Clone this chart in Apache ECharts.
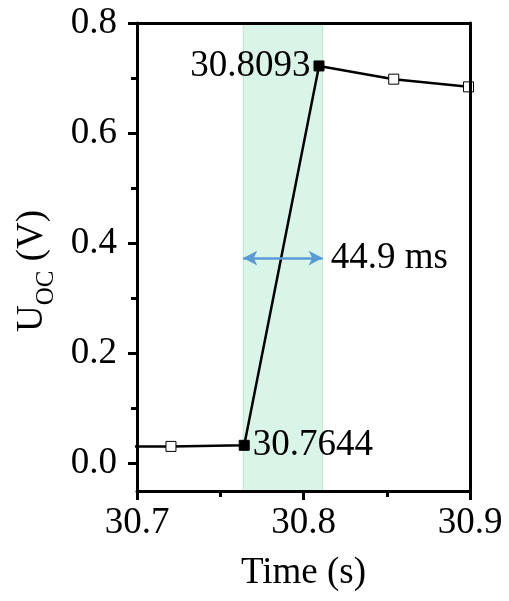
<!DOCTYPE html>
<html>
<head>
<meta charset="utf-8">
<script src="https://cdn.jsdelivr.net/npm/echarts@6/dist/echarts.min.js"></script>
<style>
  html, body { margin: 0; padding: 0; background: #fff; }
  #chart { width: 509px; height: 601px; }
</style>
</head>
<body>
<div id="chart"></div>
<script>
// sampled points (time in s, voltage in V)
const times = [30.6755, 30.7204, 30.7644, 30.8093, 30.8542, 30.8991];
const volts = [0.031, 0.031, 0.033, 0.722, 0.698, 0.684];
// which points are highlighted (filled) and labelled
const filled = [false, false, true, true, false, false];
const labelSide = [null, null, 'right', 'left', null, null];

// shaded switching window and the arrow across it
const bandStart = 30.7638;
const bandEnd = 30.8115;
const arrowY = 0.373;
const arrowText = '44.9 ms';

const xTicks = [30.7, 30.8, 30.9];
const xMinorTicks = [30.75, 30.85];
const yTicks = [0, 0.2, 0.4, 0.6, 0.8];
const yMinorTicks = [0.1, 0.3, 0.5, 0.7];

const FONT = 'Liberation Serif';
const FS = 37;
const GRID = { left: 137, right: 39, top: 23, bottom: 110 };
const PLOT_W = 509 - GRID.left - GRID.right;

const chart = echarts.init(document.getElementById('chart'), null, { renderer: 'canvas' });

const seriesData = times.map((t, i) => {
  const item = {
    value: [t, volts[i]],
    itemStyle: { color: filled[i] ? '#000' : '#fff', borderColor: '#000', borderWidth: 1 }
  };
  if (labelSide[i]) {
    item.label = {
      show: true,
      position: labelSide[i],
      distance: 3,
      formatter: t.toFixed(4),
      fontFamily: FONT,
      fontSize: FS,
      color: '#000'
    };
  }
  return item;
});

const tickStyle = { width: 3, color: '#000' };
const lineStyle = { color: '#000', width: 3 };

// an axis that only draws ticks at given values
function tickAxis(position, min, max, values, len, extra) {
  return Object.assign({
    type: 'value',
    position: position,
    min: min,
    max: max,
    z: 5,
    axisLine: { show: false, onZero: false },
    axisTick: { show: true, customValues: values.slice(), length: len, lineStyle: tickStyle },
    axisLabel: { show: false },
    splitLine: { show: false }
  }, extra || {});
}

const option = {
  animation: false,
  grid: GRID,
  xAxis: [
    {
      type: 'value',
      min: 30.7,
      max: 30.9,
      z: 5,
      name: 'Time (s)',
      nameLocation: 'middle',
      nameGap: 64,
      nameTextStyle: { fontFamily: FONT, fontSize: FS, color: '#000' },
      axisLine: { show: true, onZero: false, lineStyle: lineStyle },
      axisTick: { show: false },
      axisLabel: {
        customValues: xTicks.slice(),
        margin: 14,
        fontFamily: FONT, fontSize: FS, color: '#000',
        formatter: v => v.toFixed(1)
      },
      splitLine: { show: false }
    },
    tickAxis('bottom', 30.7, 30.9, xTicks, 9),
    tickAxis('bottom', 30.7, 30.9, xMinorTicks, 6),
    {
      type: 'value',
      position: 'top',
      min: 30.7,
      max: 30.9,
      z: 5,
      axisLine: { show: true, onZero: false, lineStyle: lineStyle },
      axisTick: { show: false },
      axisLabel: { show: false },
      splitLine: { show: false }
    }
  ],
  yAxis: [
    tickAxis('left', -0.05, 0.8, yTicks, 9),
    tickAxis('left', -0.05, 0.8, yMinorTicks, 6),
    {
      type: 'value',
      position: 'left',
      min: -0.05,
      max: 0.8,
      z: 5,
      name: '{m|U}{s|OC}{m| (V)}',
      nameLocation: 'middle',
      nameGap: 78,
      nameMoveOverlap: false,
      nameTextStyle: {
        padding: [0, 28, 0, 0],
        rich: {
          m: { fontFamily: FONT, fontSize: FS, color: '#000', verticalAlign: 'bottom', padding: [0, 0, 8, 0] },
          s: { fontFamily: FONT, fontSize: 25, color: '#000', verticalAlign: 'bottom' }
        }
      },
      axisLine: { show: true, onZero: false, lineStyle: lineStyle },
      axisTick: { show: false },
      axisLabel: {
        customValues: yTicks.slice(),
        margin: 20,
        fontFamily: FONT, fontSize: FS, color: '#000',
        formatter: v => v.toFixed(1)
      },
      splitLine: { show: false }
    },
    {
      type: 'value',
      position: 'right',
      min: -0.05,
      max: 0.8,
      z: 5,
      axisLine: { show: true, onZero: false, lineStyle: lineStyle },
      axisTick: { show: false },
      axisLabel: { show: false },
      splitLine: { show: false }
    },
    // major y ticks again, hosted on the right side and shifted onto the left axis
    tickAxis('right', -0.05, 0.8, yTicks, 9, {
      offset: -PLOT_W,
      axisTick: { show: true, inside: true, customValues: yTicks.slice(), length: 9, lineStyle: tickStyle }
    })
  ],
  series: [
    {
      // shaded window + arrow
      type: 'line',
      data: [],
      yAxisIndex: 2,
      z: 1,
      markArea: {
        silent: true,
        itemStyle: { color: '#d9f5e7', borderColor: '#bfe3cf', borderWidth: 1 },
        data: [[{ xAxis: bandStart }, { xAxis: bandEnd }]]
      },
      markLine: {
        silent: true,
        symbol: ['arrow', 'arrow'],
        symbolSize: [11, 14],
        lineStyle: { color: '#5b9bd5', width: 2.5, type: 'solid' },
        label: {
          show: true,
          position: 'end',
          distance: 8,
          formatter: arrowText,
          fontFamily: FONT, fontSize: FS, color: '#000'
        },
        data: [[{ coord: [bandStart, arrowY] }, { coord: [bandEnd, arrowY] }]]
      }
    },
    {
      type: 'line',
      yAxisIndex: 2,
      z: 3,
      clip: true,
      data: seriesData,
      symbol: 'rect',
      symbolSize: 10,
      showAllSymbol: true,
      lineStyle: { color: '#000', width: 2.5 },
      label: { show: false }
    }
  ]
};

chart.setOption(option);
</script>
</body>
</html>
